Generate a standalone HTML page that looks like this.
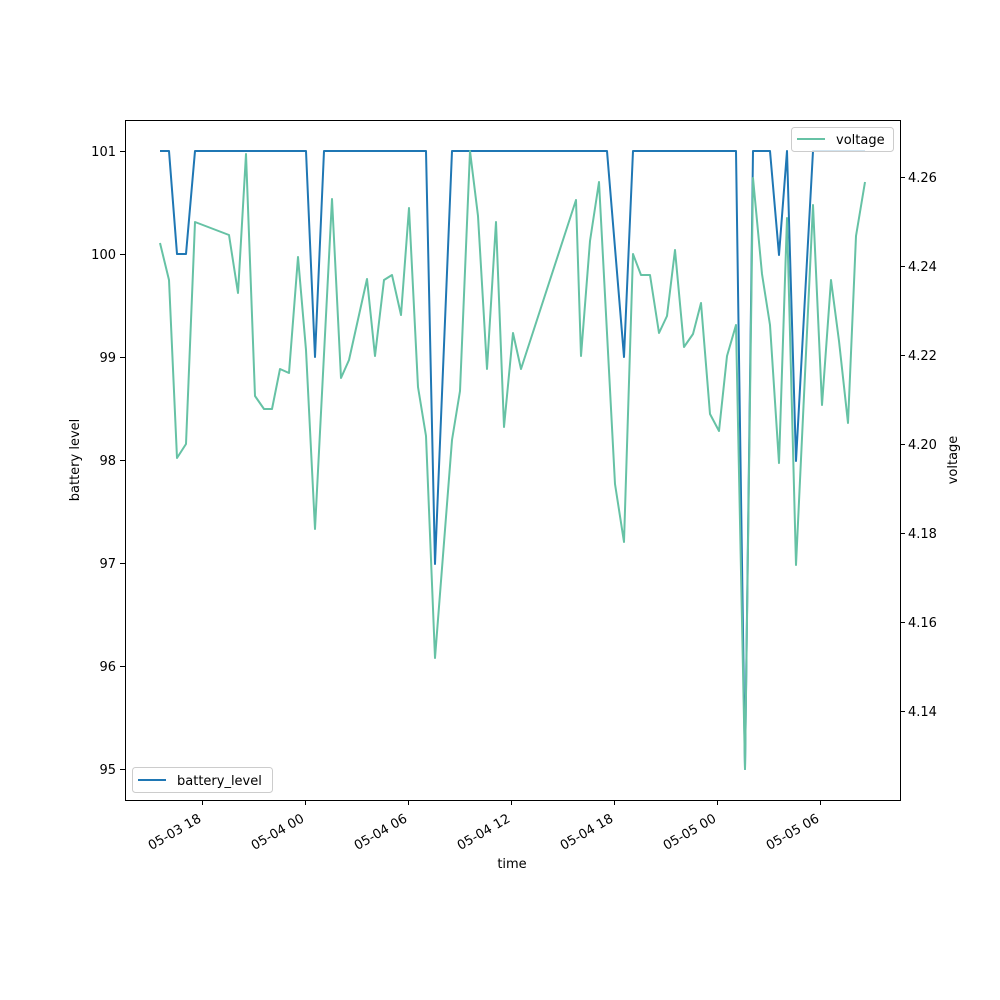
<!DOCTYPE html>
<html><head><style>body{margin:0;background:#fff}svg{display:block}</style></head>
<body>
<svg width="1000" height="1000" xmlns="http://www.w3.org/2000/svg" font-family="'DejaVu Sans','Liberation Sans',sans-serif" font-size="13">
<rect width="1000" height="1000" fill="#fff"/>
<polyline fill="none" stroke="#1f77b4" stroke-width="2" stroke-linejoin="round" points="160,151 169,151 177,254 186,254 195,151 306,151 315,357 324,151 426,151 435,564 452,151 607,151 624,357 633,151 736,151 745,769 753,151 770,151 779,255 787,151 796,461 813,151 865,151"/>
<polyline fill="none" stroke="#66c2a5" stroke-width="2" stroke-linejoin="round" points="160,243 169,280 177,458 186,444 195,222 229,235 238,293 246,154 255,396 264,409 272,409 280,369 289,373 298,257 306,350 315,529 332,199 341,378 349,360 367,279 375,356 384,280 392,275 401,315 409,208 418,387 426,436 435,658 452,440 460,391 470,151 478,216 487,369 496,222 504,427 513,333 521,369 576,200 581,356 590,241 599,182 615,484 624,542 633,254 641,275 650,275 659,333 667,316 675,250 684,347 693,334 701,303 710,414 719,431 727,356 736,325 745,769 753,178 762,274 770,325 779,463 787,218 796,565 813,205 822,405 831,280 839,341 848,423 856,236 865,182"/>
<rect x="125.5" y="120.5" width="775" height="680" fill="none" stroke="#000" stroke-width="1"/>
<g stroke="#000">
<line x1="202.5" y1="800" x2="202.5" y2="805"/><line x1="305.5" y1="800" x2="305.5" y2="805"/><line x1="408.5" y1="800" x2="408.5" y2="805"/><line x1="511.5" y1="800" x2="511.5" y2="805"/><line x1="614.5" y1="800" x2="614.5" y2="805"/><line x1="717.5" y1="800" x2="717.5" y2="805"/><line x1="820.5" y1="800" x2="820.5" y2="805"/>
<line x1="120" y1="769.5" x2="125" y2="769.5"/><line x1="120" y1="666.5" x2="125" y2="666.5"/><line x1="120" y1="563.5" x2="125" y2="563.5"/><line x1="120" y1="460.5" x2="125" y2="460.5"/><line x1="120" y1="357.5" x2="125" y2="357.5"/><line x1="120" y1="254.5" x2="125" y2="254.5"/><line x1="120" y1="151.5" x2="125" y2="151.5"/>
<line x1="900" y1="711.5" x2="905" y2="711.5"/><line x1="900" y1="622.5" x2="905" y2="622.5"/><line x1="900" y1="533.5" x2="905" y2="533.5"/><line x1="900" y1="444.5" x2="905" y2="444.5"/><line x1="900" y1="355.5" x2="905" y2="355.5"/><line x1="900" y1="266.5" x2="905" y2="266.5"/><line x1="900" y1="177.5" x2="905" y2="177.5"/>
</g>
<g text-anchor="end">
<text x="116" y="774">95</text><text x="116" y="671">96</text><text x="116" y="568">97</text><text x="116" y="465">98</text><text x="116" y="362">99</text><text x="116" y="259">100</text><text x="116" y="156">101</text>
</g>
<g>
<text x="908" y="716">4.14</text><text x="908" y="627">4.16</text><text x="908" y="538">4.18</text><text x="908" y="449">4.20</text><text x="908" y="360">4.22</text><text x="908" y="271">4.24</text><text x="908" y="182">4.26</text>
</g>
<g text-anchor="end">
<text transform="translate(202,821) rotate(-30)">05-03 18</text>
<text transform="translate(305,821) rotate(-30)">05-04 00</text>
<text transform="translate(408,821) rotate(-30)">05-04 06</text>
<text transform="translate(511,821) rotate(-30)">05-04 12</text>
<text transform="translate(614,821) rotate(-30)">05-04 18</text>
<text transform="translate(717,821) rotate(-30)">05-05 00</text>
<text transform="translate(820,821) rotate(-30)">05-05 06</text>
</g>
<text x="512" y="868" text-anchor="middle">time</text>
<text transform="translate(79,460) rotate(-90)" text-anchor="middle">battery level</text>
<text transform="translate(957,460) rotate(-90)" text-anchor="middle">voltage</text>
<rect x="791.5" y="127.5" width="102" height="24" rx="3" fill="#fff" fill-opacity="0.8" stroke="#ccc"/>
<line x1="797" y1="139" x2="825" y2="139" stroke="#66c2a5" stroke-width="2"/>
<text x="836" y="144">voltage</text>
<rect x="132.5" y="767.5" width="140" height="25" rx="3" fill="#fff" fill-opacity="0.8" stroke="#ccc"/>
<line x1="138" y1="780" x2="166" y2="780" stroke="#1f77b4" stroke-width="2"/>
<text x="177" y="785">battery_level</text>
</svg>
</body></html>
